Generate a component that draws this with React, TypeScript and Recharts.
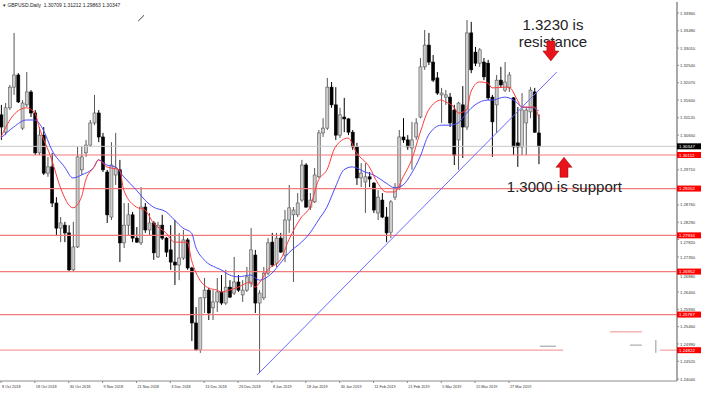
import React from 'react';
import { ComposedChart, Bar, Line, XAxis, YAxis, ReferenceLine, ReferenceDot } from 'recharts';

// GBPUSD daily, 8 Oct 2018 - 5 Apr 2019 (bar index 0..127)
const opens = [
  1.3120, 1.3073, 1.3139, 1.3195, 1.3228, 1.3084, 1.3147, 1.3182, 1.3125, 1.3017,
  1.3065, 1.2962, 1.2979, 1.2881, 1.2813, 1.2821, 1.2800, 1.2700, 1.2762, 1.2971,
  1.3017, 1.3038, 1.3098, 1.3125, 1.3060, 1.2965, 1.2843, 1.2957, 1.2971, 1.2773,
  1.2821, 1.2849, 1.2786, 1.2773, 1.2870, 1.2808, 1.2827, 1.2735, 1.2821, 1.2786,
  1.2754, 1.2721, 1.2713, 1.2732, 1.2781, 1.2705, 1.2556, 1.2483, 1.2624, 1.2645,
  1.2597, 1.2613, 1.2640, 1.2610, 1.2653, 1.2637, 1.2667, 1.2632, 1.2645, 1.2664,
  1.2740, 1.2610, 1.2624, 1.2691, 1.2775, 1.2718, 1.2786, 1.2740, 1.2835, 1.2849,
  1.2849, 1.2889, 1.2984, 1.2870, 1.2884, 1.2952, 1.3071, 1.3084, 1.3195, 1.3147,
  1.3065, 1.3114, 1.3109, 1.3073, 1.3033, 1.2949, 1.2938, 1.2952, 1.2935, 1.2854,
  1.2889, 1.2843, 1.2802, 1.2897, 1.2924, 1.3060, 1.3052, 1.3030, 1.3060, 1.3114,
  1.3250, 1.3309, 1.3263, 1.3220, 1.3174, 1.3168, 1.3168, 1.3133, 1.3052, 1.3147,
  1.3087, 1.3342, 1.3290, 1.3260, 1.3263, 1.3260, 1.3168, 1.3147, 1.3214, 1.3187,
  1.3193, 1.3166, 1.3044, 1.3033, 1.3098, 1.3128, 1.3182, 1.30709,
];
const highs = [
  1.3147, 1.3152, 1.3201, 1.3342, 1.3233, 1.3160, 1.3236, 1.3187, 1.3133, 1.3087,
  1.3087, 1.3006, 1.3017, 1.2897, 1.2843, 1.2830, 1.2821, 1.2830, 1.3033, 1.3035,
  1.3052, 1.3106, 1.3174, 1.3133, 1.3071, 1.2971, 1.3046, 1.3071, 1.2998, 1.2881,
  1.2881, 1.2857, 1.2816, 1.2924, 1.2881, 1.2854, 1.2832, 1.2830, 1.2849, 1.2789,
  1.2821, 1.2835, 1.2800, 1.2808, 1.2786, 1.2708, 1.2599, 1.2626, 1.2678, 1.2651,
  1.2645, 1.2678, 1.2686, 1.2700, 1.2672, 1.2735, 1.2686, 1.2672, 1.2708, 1.2813,
  1.2754, 1.2645, 1.2708, 1.2786, 1.2800, 1.2800, 1.2800, 1.2862, 1.2930, 1.2870,
  1.2908, 1.2998, 1.2989, 1.2908, 1.2976, 1.3079, 1.3111, 1.3220, 1.3209, 1.3195,
  1.3139, 1.3166, 1.3111, 1.3079, 1.3044, 1.2989, 1.2989, 1.2965, 1.2938, 1.2916,
  1.2908, 1.2870, 1.2889, 1.2935, 1.3079, 1.3111, 1.3065, 1.3101, 1.3111, 1.3274,
  1.3350, 1.3342, 1.3282, 1.3236, 1.3193, 1.3187, 1.3179, 1.3147, 1.3155, 1.3198,
  1.3377, 1.3372, 1.3304, 1.3301, 1.3274, 1.3269, 1.3174, 1.3228, 1.3250, 1.3263,
  1.3236, 1.3168, 1.3141, 1.3179, 1.3141, 1.3195, 1.3193, 1.31212,
];
const lows = [
  1.3052, 1.3065, 1.3133, 1.3174, 1.3152, 1.3079, 1.3141, 1.3114, 1.3011, 1.3011,
  1.2957, 1.2952, 1.2870, 1.2794, 1.2775, 1.2775, 1.2694, 1.2694, 1.2759, 1.2957,
  1.3006, 1.3033, 1.3092, 1.3046, 1.2965, 1.2827, 1.2835, 1.2930, 1.2721, 1.2759,
  1.2794, 1.2775, 1.2773, 1.2767, 1.2800, 1.2794, 1.2727, 1.2732, 1.2781, 1.2735,
  1.2700, 1.2659, 1.2672, 1.2727, 1.2700, 1.2507, 1.2480, 1.2475, 1.2583, 1.2564,
  1.2564, 1.2586, 1.2605, 1.2605, 1.2624, 1.2632, 1.2640, 1.2613, 1.2640, 1.2653,
  1.2583, 1.2420, 1.2618, 1.2686, 1.2708, 1.2708, 1.2746, 1.2721, 1.2800, 1.2667,
  1.2843, 1.2884, 1.2868, 1.2862, 1.2881, 1.2949, 1.3060, 1.3079, 1.3139, 1.3052,
  1.3057, 1.3073, 1.3065, 1.3025, 1.2930, 1.2924, 1.2854, 1.2924, 1.2854, 1.2835,
  1.2840, 1.2775, 1.2786, 1.2889, 1.2916, 1.3044, 1.3025, 1.2971, 1.3052, 1.3111,
  1.3242, 1.3255, 1.3209, 1.3174, 1.3098, 1.3147, 1.3087, 1.2984, 1.2971, 1.3003,
  1.3079, 1.3233, 1.3252, 1.3250, 1.3214, 1.3160, 1.3006, 1.3071, 1.3193, 1.3182,
  1.3182, 1.3011, 1.2979, 1.3011, 1.3011, 1.3111, 1.3071, 1.29863,
];
const closes = [
  1.3087, 1.3139, 1.3195, 1.3228, 1.3155, 1.3152, 1.3182, 1.3125, 1.3017, 1.3065,
  1.2962, 1.2979, 1.2881, 1.2813, 1.2827, 1.2800, 1.2700, 1.2762, 1.3006, 1.3006,
  1.3038, 1.3098, 1.3125, 1.3060, 1.2971, 1.2849, 1.2984, 1.2976, 1.2773, 1.2821,
  1.2849, 1.2786, 1.2775, 1.2870, 1.2808, 1.2827, 1.2746, 1.2821, 1.2786, 1.2748,
  1.2721, 1.2713, 1.2732, 1.2781, 1.2705, 1.2556, 1.2483, 1.2624, 1.2645, 1.2583,
  1.2613, 1.2640, 1.2610, 1.2653, 1.2626, 1.2667, 1.2645, 1.2645, 1.2681, 1.2754,
  1.2610, 1.2637, 1.2691, 1.2773, 1.2713, 1.2786, 1.2748, 1.2835, 1.2868, 1.2862,
  1.2881, 1.2984, 1.2870, 1.2889, 1.2957, 1.3071, 1.3084, 1.3195, 1.3147, 1.3065,
  1.3120, 1.3109, 1.3073, 1.3033, 1.2949, 1.2962, 1.2952, 1.2946, 1.2862, 1.2897,
  1.2843, 1.2800, 1.2884, 1.2924, 1.3060, 1.3052, 1.3033, 1.3052, 1.3098, 1.3250,
  1.3309, 1.3263, 1.3214, 1.3179, 1.3179, 1.3174, 1.3098, 1.3011, 1.3152, 1.3087,
  1.3342, 1.3242, 1.3260, 1.3296, 1.3223, 1.3166, 1.3101, 1.3214, 1.3201, 1.3209,
  1.3228, 1.3033, 1.3033, 1.3133, 1.3133, 1.3187, 1.3073, 1.30347,
];

// moving averages at these bars
const redIdx = [0, 3, 6, 8, 9, 12, 14, 17, 19, 20, 22, 23, 25, 28, 29, 32, 34, 36, 39, 41, 44, 45, 47, 49, 51, 52, 54, 56, 59, 60, 61, 63, 66, 68, 71, 73, 75, 77, 79, 82, 84, 87, 89, 91, 93, 95, 97, 99, 101, 104, 105, 107, 108, 110, 111, 113, 115, 116, 119, 120, 122, 123, 126, 127];
const redVal = [1.3060, 1.3120, 1.3139, 1.3125, 1.3087, 1.2998, 1.2924, 1.2868, 1.2897, 1.2943, 1.2979, 1.2998, 1.2979, 1.2971, 1.2916, 1.2870, 1.2862, 1.2827, 1.2800, 1.2775, 1.2775, 1.2727, 1.2672, 1.2651, 1.2645, 1.2640, 1.2645, 1.2653, 1.2667, 1.2653, 1.2664, 1.2700, 1.2727, 1.2781, 1.2843, 1.2870, 1.2943, 1.2971, 1.3033, 1.3057, 1.3017, 1.2979, 1.2935, 1.2911, 1.2911, 1.2952, 1.2998, 1.3071, 1.3133, 1.3160, 1.3155, 1.3141, 1.3125, 1.3133, 1.3182, 1.3209, 1.3206, 1.3193, 1.3195, 1.3195, 1.3160, 1.3141, 1.3141, 1.3114];
const blueIdx = [0, 3, 6, 8, 10, 12, 15, 17, 19, 22, 23, 25, 27, 29, 32, 34, 36, 39, 41, 43, 45, 46, 48, 51, 52, 54, 56, 59, 61, 64, 66, 68, 71, 73, 75, 77, 79, 81, 83, 86, 88, 91, 93, 95, 97, 99, 101, 104, 106, 108, 110, 112, 115, 116, 119, 120, 122, 123, 126, 127];
const blueVal = [1.3057, 1.3087, 1.3106, 1.3106, 1.3079, 1.3025, 1.2979, 1.2949, 1.2957, 1.2979, 1.2998, 1.2984, 1.2979, 1.2952, 1.2916, 1.2889, 1.2870, 1.2857, 1.2835, 1.2813, 1.2800, 1.2762, 1.2727, 1.2705, 1.2700, 1.2686, 1.2681, 1.2686, 1.2672, 1.2691, 1.2718, 1.2746, 1.2775, 1.2800, 1.2835, 1.2870, 1.2924, 1.2971, 1.2979, 1.2965, 1.2957, 1.2935, 1.2922, 1.2930, 1.2962, 1.3006, 1.3065, 1.3092, 1.3092, 1.3098, 1.3125, 1.3147, 1.3160, 1.3160, 1.3168, 1.3166, 1.3152, 1.3141, 1.3139, 1.3130];

const dateTicks = [0, 8, 16, 24, 32, 40, 48, 56, 64, 72, 80, 88, 96, 104, 112, 120];
const dateLabels = ['8 Oct 2018', '18 Oct 2018', '30 Oct 2018', '9 Nov 2018', '21 Nov 2018', '3 Dec 2018', '13 Dec 2018', '26 Dec 2018', '8 Jan 2019', '18 Jan 2019', '30 Jan 2019', '11 Feb 2019', '21 Feb 2019', '5 Mar 2019', '15 Mar 2019', '27 Mar 2019'];

// 1.30180 and 1.29240 sit under the red price tags in the reference, so they are left out
const priceTicks = [1.3396, 1.3348, 1.3301, 1.3254, 1.3207, 1.316, 1.3112, 1.3065, 1.2971, 1.2876, 1.2829, 1.2782, 1.2735, 1.2688, 1.264, 1.2593, 1.2546, 1.2499, 1.2452, 1.2404];
const levels = [1.30112, 1.29202, 1.27934, 1.26952, 1.25787];
const lowLevel = 1.24822;
const lastPrice = 1.30347;

const tagColor: Record<string, string> = {};
levels.concat([lowLevel]).forEach((v) => (tagColor[v.toFixed(5)] = '#ff0000'));
tagColor[lastPrice.toFixed(5)] = '#000000';

const data = opens.map((o, i) => {
  const r = redIdx.indexOf(i);
  const b = blueIdx.indexOf(i);
  return {
    i,
    open: o,
    high: highs[i],
    low: lows[i],
    close: closes[i],
    range: [lows[i], highs[i]],
    red: r >= 0 ? redVal[r] : null,
    blue: b >= 0 ? blueVal[b] : null,
  };
});

const FONT = 'Liberation Sans, Arial, sans-serif';

function Candle(props: any) {
  const { x, y, width, height, payload } = props;
  if (x == null || y == null) return null;
  const top = Math.min(y, y + height);
  const h = Math.abs(height);
  const { open, close, high, low } = payload;
  const span = high - low || 1e-9;
  const toY = (p: number) => top + ((high - p) / span) * h;
  const cx = x + width / 2;
  const up = close >= open;
  const bTop = toY(Math.max(open, close));
  const bBot = toY(Math.min(open, close));
  return (
    <g>
      <line x1={cx} x2={cx} y1={top} y2={top + h} stroke={up ? '#555' : '#000'} strokeWidth={1} />
      <rect
        x={x}
        y={bTop}
        width={width}
        height={Math.max(bBot - bTop, 0.8)}
        fill={up ? '#cdcdcd' : '#000'}
        stroke={up ? '#555' : '#000'}
        strokeWidth={0.6}
      />
    </g>
  );
}

function PriceTick(props: any) {
  const { x, y, payload } = props;
  const v = Number(payload.value);
  const label = v.toFixed(5);
  const tag = tagColor[label];
  if (tag) {
    return (
      <g>
        <rect x={x - 3} y={y - 3} width={24} height={6} fill={tag} />
        <text x={x - 1} y={y + 1.6} fontSize={4.4} fontFamily={FONT} fill="#fff">{label}</text>
      </g>
    );
  }
  // labels just under a price tag peek out below it
  const near = levels.some((l) => l - v > 0 && l - v < 0.0012);
  return (
    <text x={x} y={y + (near ? 4 : 1.6)} fontSize={4.2} fontFamily={FONT} fill="#333">{label}</text>
  );
}

function DateTick(props: any) {
  const { x, y, payload } = props;
  const k = dateTicks.indexOf(payload.value);
  return (
    <text x={x + 1} y={y + 3} fontSize={3.8} fontFamily={FONT} fill="#333" textAnchor="start">
      {dateLabels[k]}
    </text>
  );
}

const textShape = (str: string, anchor: string) => (p: any) => (
  <text x={p.cx} y={p.cy} textAnchor={anchor} fontSize={15} fontFamily={FONT} fill="#222">{str}</text>
);

const downArrow = (p: any) => {
  const { cx, cy } = p;
  const pts = [[-4, -20], [4, -20], [4, -10], [8, -10], [0, 0], [-8, -10], [-4, -10]]
    .map(([dx, dy]) => `${cx + dx},${cy + dy}`).join(' ');
  return <polygon points={pts} fill="#e8131b" stroke="#9a0000" strokeWidth={0.5} />;
};
const upArrow = (p: any) => {
  const { cx, cy } = p;
  const pts = [[-4, 20], [4, 20], [4, 10], [8, 10], [0, 0], [-8, 10], [-4, 10]]
    .map(([dx, dy]) => `${cx + dx},${cy + dy}`).join(' ');
  return <polygon points={pts} fill="#e8131b" stroke="#9a0000" strokeWidth={0.5} />;
};

export default function App() {
  const yTicks = priceTicks.concat([lastPrice], levels, [lowLevel]);
  return (
    <div style={{ position: 'absolute', left: 0, top: 0, width: 705, height: 393, background: '#fff' }}>
      <ComposedChart width={705} height={393} data={data} margin={{ top: 2, right: 0, left: 0, bottom: 0 }}>
        <XAxis
          type="number"
          dataKey="i"
          domain={[-0.236, 159.7]}
          ticks={dateTicks}
          interval={0}
          height={12}
          tickSize={2}
          tick={DateTick}
          axisLine={{ stroke: '#8c8c8c' }}
          tickLine={{ stroke: '#8c8c8c' }}
          allowDataOverflow
        />
        <YAxis
          orientation="right"
          type="number"
          domain={[1.23987, 1.34258]}
          ticks={yTicks}
          interval={0}
          width={28}
          tickSize={2}
          tickMargin={1}
          tick={PriceTick}
          axisLine={{ stroke: '#8c8c8c', strokeWidth: 1.5 }}
          tickLine={{ stroke: '#8c8c8c' }}
          allowDataOverflow
        />

        <ReferenceLine y={lastPrice} stroke="#c8c8c8" strokeWidth={1} />
        {levels.map((v) => (
          <ReferenceLine key={v} y={v} stroke="#f27a7a" strokeWidth={1.2} />
        ))}
        <ReferenceLine segment={[{ x: -0.236, y: lowLevel }, { x: 132.8, y: lowLevel }]} stroke="#f5a0a0" strokeWidth={1.2} />
        <ReferenceLine segment={[{ x: 155.7, y: lowLevel }, { x: 159.7, y: lowLevel }]} stroke="#f5a0a0" strokeWidth={1.2} />
        <ReferenceLine segment={[{ x: 143.9, y: 1.2532 }, { x: 151.4, y: 1.2532 }]} stroke="#f5a0a0" strokeWidth={1.2} />
        <ReferenceLine segment={[{ x: 127.3, y: 1.2493 }, { x: 131.1, y: 1.2493 }]} stroke="#999" strokeWidth={1} />
        <ReferenceLine segment={[{ x: 148.6, y: 1.2496 }, { x: 151.4, y: 1.2496 }]} stroke="#999" strokeWidth={1} />
        <ReferenceLine segment={[{ x: 154.7, y: 1.2510 }, { x: 154.7, y: 1.2475 }]} stroke="#999" strokeWidth={1} />
        <ReferenceLine segment={[{ x: 32.4, y: 1.3374 }, { x: 33.8, y: 1.3390 }]} stroke="#444" strokeWidth={1} />

        <Bar dataKey="range" barSize={3} shape={Candle} isAnimationActive={false} />
        <Line dataKey="blue" type="monotone" stroke="#4b4bff" strokeWidth={1} dot={false} connectNulls isAnimationActive={false} />
        <Line dataKey="red" type="monotone" stroke="#ff3b3b" strokeWidth={1} dot={false} connectNulls isAnimationActive={false} />

        <ReferenceLine segment={[{ x: 60.5, y: 1.2415 }, { x: 131.3, y: 1.3236 }]} stroke="#6a6aff" strokeWidth={1} />

        <ReferenceDot x={130.4} y={1.3350} r={0} shape={textShape('1.3230 is', 'middle')} />
        <ReferenceDot x={130.4} y={1.3305} r={0} shape={textShape('resistance', 'middle')} />
        <ReferenceDot x={129.9} y={1.3266} r={0} shape={downArrow} />
        <ReferenceDot x={133.0} y={1.3005} r={0} shape={upArrow} />
        <ReferenceDot x={119.5} y={1.2912} r={0} shape={textShape('1.3000 is support', 'start')} />
      </ComposedChart>
      <div
        style={{
          position: 'absolute',
          left: 3,
          top: 2,
          fontFamily: FONT,
          fontSize: 5,
          color: '#222',
          whiteSpace: 'pre',
          lineHeight: '6px',
        }}
      >
        {'\u25BE GBPUSD.Daily  1.30709 1.31212 1.29863 1.30347'}
      </div>
    </div>
  );
}
